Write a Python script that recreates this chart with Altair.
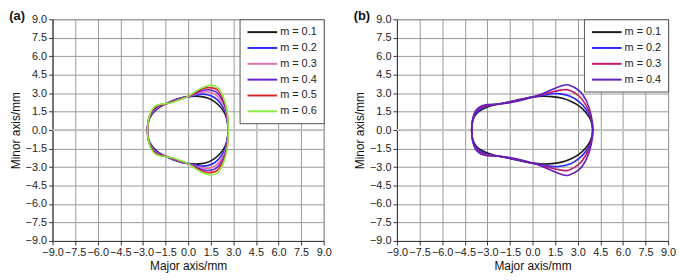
import altair as alt
import pandas as pd

FONT = "Liberation Sans"
ticks = [-9.0, -7.5, -6.0, -4.5, -3.0, -1.5, 0.0, 1.5, 3.0, 4.5, 6.0, 7.5, 9.0]

# ---- Panel (a): upper half of each closed profile, left to right (mirrored for lower half)
labels_a = ["m = 0.1", "m = 0.2", "m = 0.3", "m = 0.4", "m = 0.5", "m = 0.6"]
colors_a = ["#1a1a1a", "#2a2aff", "#e070b0", "#6a1fd0", "#d42a2a", "#88ee44"]

a1_x = [-2.70, -2.62, -2.42, -2.15, -1.85, -1.50, -1.00, -0.50, 0.00, 0.50, 0.90, 1.30, 1.70, 2.05, 2.35, 2.55, 2.66]
a1_y = [0.00, 0.75, 1.25, 1.62, 1.90, 2.12, 2.40, 2.60, 2.72, 2.76, 2.72, 2.60, 2.35, 2.00, 1.55, 0.95, 0.00]
a2_x = [-2.70, -2.62, -2.43, -2.16, -1.85, -1.50, -1.00, -0.50, 0.00, 0.50, 0.90, 1.30, 1.75, 2.10, 2.38, 2.57, 2.66]
a2_y = [0.00, 0.78, 1.30, 1.68, 1.93, 2.12, 2.38, 2.58, 2.72, 2.84, 2.92, 2.88, 2.65, 2.25, 1.70, 1.00, 0.00]
a3_x = [-2.70, -2.62, -2.44, -2.17, -1.85, -1.50, -1.00, -0.50, 0.00, 0.50, 0.95, 1.35, 1.80, 2.15, 2.42, 2.58, 2.66]
a3_y = [0.00, 0.80, 1.35, 1.74, 1.97, 2.12, 2.36, 2.56, 2.72, 2.92, 3.08, 3.10, 2.90, 2.45, 1.85, 1.05, 0.00]
a4_x = [-2.70, -2.63, -2.45, -2.18, -1.85, -1.50, -1.00, -0.50, 0.00, 0.50, 0.95, 1.35, 1.85, 2.20, 2.45, 2.60, 2.66]
a4_y = [0.00, 0.82, 1.40, 1.80, 2.01, 2.12, 2.33, 2.54, 2.72, 3.00, 3.22, 3.28, 3.10, 2.60, 1.95, 1.10, 0.00]
a5_x = [-2.70, -2.63, -2.46, -2.19, -1.85, -1.50, -1.00, -0.50, 0.00, 0.50, 0.95, 1.40, 1.90, 2.25, 2.48, 2.62, 2.66]
a5_y = [0.00, 0.84, 1.45, 1.86, 2.05, 2.13, 2.30, 2.51, 2.72, 3.07, 3.35, 3.45, 3.30, 2.70, 2.00, 1.10, 0.00]
a6_x = [-2.70, -2.63, -2.47, -2.20, -1.85, -1.50, -1.00, -0.50, 0.00, 0.50, 1.00, 1.50, 2.00, 2.30, 2.50, 2.63, 2.66]
a6_y = [0.00, 0.86, 1.50, 1.92, 2.10, 2.15, 2.27, 2.48, 2.72, 3.15, 3.48, 3.65, 3.42, 2.80, 2.05, 1.15, 0.00]

# ---- Panel (b)
labels_b = ["m = 0.1", "m = 0.2", "m = 0.3", "m = 0.4"]
colors_b = ["#1a1a1a", "#2a2aff", "#c0186a", "#6020c0"]

b1_x = [-4.04, -3.95, -3.70, -3.30, -2.80, -2.20, -1.50, -0.80, 0.00, 0.70, 1.30, 2.00, 2.60, 3.10, 3.50, 3.85, 4.00]
b1_y = [0.00, 0.85, 1.35, 1.70, 1.95, 2.12, 2.30, 2.50, 2.68, 2.75, 2.72, 2.58, 2.30, 1.95, 1.50, 0.85, 0.00]
b2_x = [-4.04, -3.95, -3.72, -3.35, -2.85, -2.20, -1.50, -0.80, 0.00, 0.70, 1.20, 1.70, 2.50, 3.10, 3.55, 3.88, 4.00]
b2_y = [0.00, 0.88, 1.42, 1.78, 2.00, 2.13, 2.30, 2.47, 2.68, 2.82, 2.93, 2.96, 2.75, 2.30, 1.70, 0.95, 0.00]
b3_x = [-4.04, -3.96, -3.75, -3.40, -2.90, -2.20, -1.50, -0.80, 0.00, 0.70, 1.30, 1.90, 2.40, 3.10, 3.55, 3.88, 4.00]
b3_y = [0.00, 0.90, 1.50, 1.85, 2.03, 2.12, 2.26, 2.44, 2.68, 2.90, 3.10, 3.25, 3.25, 2.75, 2.00, 1.05, 0.00]
b4_x = [-4.04, -3.97, -3.78, -3.45, -3.00, -2.20, -1.50, -0.80, 0.00, 0.70, 1.30, 1.90, 2.40, 3.15, 3.60, 3.90, 4.00]
b4_y = [0.00, 0.92, 1.55, 1.92, 2.08, 2.12, 2.22, 2.40, 2.68, 2.98, 3.30, 3.58, 3.66, 3.15, 2.30, 1.15, 0.00]


def loop_rows(label, xs, ys):
    rows = []
    k = 0
    for x, y in zip(xs, ys):
        rows.append({"m": label, "x": x, "y": y, "i": k})
        k += 1
    for x, y in zip(xs[-2:0:-1], ys[-2:0:-1]):
        rows.append({"m": label, "x": x, "y": -y, "i": k})
        k += 1
    return rows


rows_a = []
for lab, xs, ys in zip(labels_a, [a1_x, a2_x, a3_x, a4_x, a5_x, a6_x],
                       [a1_y, a2_y, a3_y, a4_y, a5_y, a6_y]):
    rows_a += loop_rows(lab, xs, ys)
rows_b = []
for lab, xs, ys in zip(labels_b, [b1_x, b2_x, b3_x, b4_x], [b1_y, b2_y, b3_y, b4_y]):
    rows_b += loop_rows(lab, xs, ys)

W, H = 274, 224


def axis(title):
    return alt.Axis(values=ticks, format=".1f", title=title, grid=True,
                    gridColor="#9a9a9a", gridWidth=1, domainColor="#333",
                    tickColor="#333", tickSize=4, labelOverlap=False,
                    labelFlush=False, labelFontSize=11, labelColor="#222",
                    labelFont=FONT, titleFont=FONT, titleFontSize=12,
                    titleFontWeight="normal", titleColor="#111",
                    labelPadding=2, titlePadding=3)


def panel(rows, labels, colors, tag):
    df = pd.DataFrame(rows)
    xs = alt.Scale(domain=[-9, 9], nice=False)
    ys = alt.Scale(domain=[-9, 9], nice=False)
    zero = alt.Chart(pd.DataFrame({"y": [0.0]})).mark_rule(
        color="#c4c4c4", strokeWidth=2).encode(
        y=alt.Y("y:Q", scale=ys, axis=axis("Minor axis/mm")))
    lines = alt.Chart(df).mark_line(interpolate="cardinal-closed", strokeWidth=1.6).encode(
        x=alt.X("x:Q", scale=xs, axis=axis("Major axis/mm")),
        y=alt.Y("y:Q", scale=ys, axis=axis("Minor axis/mm")),
        color=alt.Color("m:N", scale=alt.Scale(domain=labels, range=colors),
                        legend=alt.Legend(title=None, orient="top-right", offset=0,
                                          padding=7, strokeColor="#555",
                                          fillColor="white",
                                          symbolType="M-1,0L5,0",
                                          symbolSize=100, symbolStrokeWidth=2,
                                          labelFontSize=11, labelFont=FONT,
                                          labelColor="#222", labelOffset=22,
                                          rowPadding=5)),
        order="i:Q",
    )
    return alt.layer(zero, lines).properties(
        width=W, height=H,
        title=alt.TitleParams(tag, anchor="start", fontSize=13, fontWeight="bold",
                              font=FONT, offset=-10, color="#111"),
    )


chart = alt.hconcat(
    panel(rows_a, labels_a, colors_a, "(a)"),
    panel(rows_b, labels_b, colors_b, "(b)"),
    spacing=20,
).resolve_scale(color="independent").resolve_legend(color="independent").properties(
    padding=0
).configure_view(stroke="#9a9a9a")

chart.save("out.html", embed_options={"renderer": "svg", "actions": False})
